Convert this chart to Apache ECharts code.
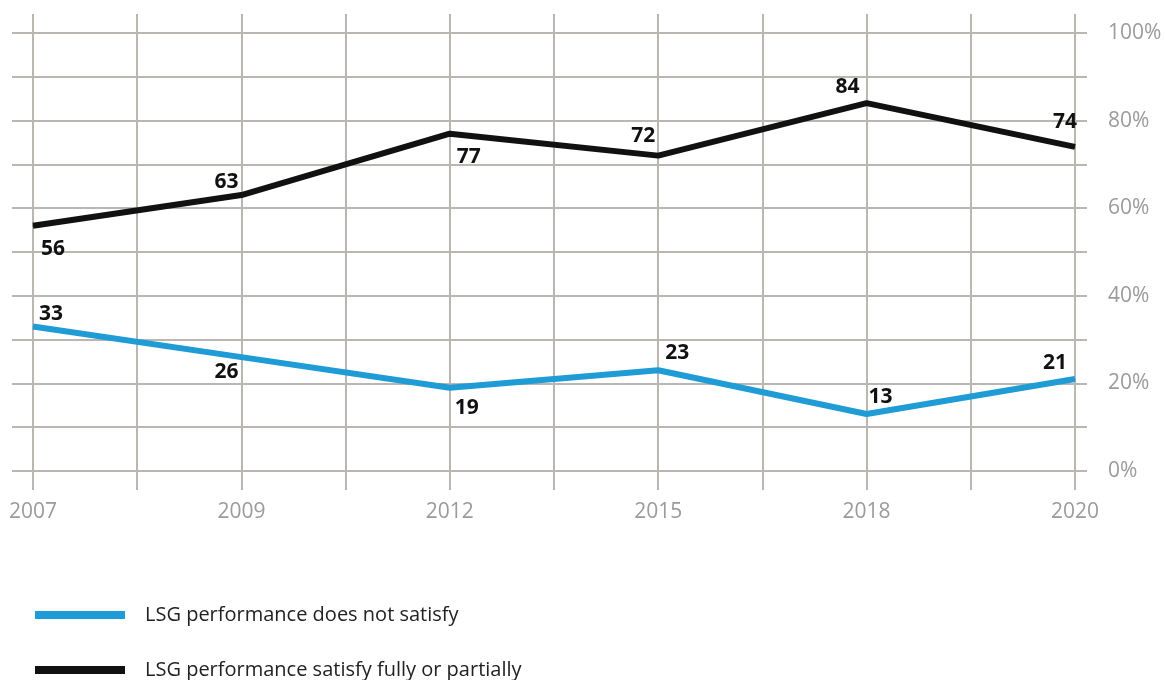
<!DOCTYPE html>
<html>
<head>
<meta charset="utf-8">
<script src="https://cdn.jsdelivr.net/npm/echarts@6/dist/echarts.min.js"></script>
<style>
html,body{margin:0;padding:0;background:#fff;}
#chart{width:1165px;height:680px;}
</style>
</head>
<body>
<div id="chart"></div>
<script>
// Category slots (one per gridline); data years sit on every other slot
const categories = ['2007','2008','2009','2010','2012','2013','2015','2016','2018','2019','2020'];
const tickLabels = ['2007','','2009','','2012','','2015','','2018','','2020'];
const dataYears = ['2007','2009','2012','2015','2018','2020'];
const notSatisfy = [33, 26, 19, 23, 13, 21];
const satisfy = [56, 63, 77, 72, 84, 74];
const seriesNames = ['LSG performance does not satisfy', 'LSG performance satisfy fully or partially'];

// label offsets (layout only)
const notSatisfyOffsets = [[18,-12],[-15,15],[17,20],[19,-17],[14,-17],[-20,-16]];
const satisfyOffsets = [[20,23],[-15,-13],[19,23],[-15,-20],[-19,-16],[-10,-25]];

function buildData(values, offsets) {
  return categories.map(function (c) {
    const i = dataYears.indexOf(c);
    if (i < 0) return null;
    return { value: values[i], label: { offset: offsets[i] } };
  });
}

const gridColor = '#bab6b2';
const chart = echarts.init(document.getElementById('chart'));
const labelStyle = {
  show: true, position: 'inside', color: '#111', fontWeight: 'bold',
  fontSize: 21, fontFamily: 'Open Sans', formatter: '{c}'
};
function legendFor(name, top) {
  return {
    orient: 'vertical', left: 30, top: top, itemWidth: 90, itemHeight: 8,
    icon: 'rect', data: [name],
    textStyle: { color: '#222', fontSize: 20, fontFamily: 'Open Sans', lineHeight: 24, padding: [0,0,0,15] }
  };
}
chart.setOption({
  animation: false,
  backgroundColor: '#fff',
  grid: { left: 33, right: 90, top: 33, bottom: 209 },
  legend: [legendFor(seriesNames[0], 598), legendFor(seriesNames[1], 653)],
  xAxis: [{
    type: 'category', data: categories, boundaryGap: false, position: 'bottom',
    axisLine: { show: false, onZero: false },
    axisTick: { show: true, interval: 0, length: 19, lineStyle: { color: gridColor, width: 2 } },
    axisLabel: { interval: 0, margin: 31, color: '#9b9b9b', fontSize: 21, fontFamily: 'Open Sans',
      formatter: function (v, i) { return tickLabels[i]; } },
    splitLine: { show: true, interval: 0, lineStyle: { color: gridColor, width: 2 } }
  }, {
    type: 'category', data: categories, boundaryGap: false, position: 'top',
    axisLine: { show: false, onZero: false },
    axisTick: { show: true, interval: 0, length: 19, lineStyle: { color: gridColor, width: 2 } },
    axisLabel: { show: false },
    splitLine: { show: false }
  }],
  yAxis: [{
    type: 'value', position: 'right', min: 0, max: 100, interval: 10,
    axisLine: { show: false },
    axisTick: { show: true, length: 12, lineStyle: { color: gridColor, width: 2 } },
    axisLabel: { margin: 33, color: '#9b9b9b', fontSize: 21, fontFamily: 'Open Sans',
      formatter: function (v) { return v % 20 === 0 ? v + '%' : ''; } },
    splitLine: { show: true, lineStyle: { color: gridColor, width: 2 } }
  }, {
    type: 'value', position: 'left', min: 0, max: 100, interval: 10,
    axisLine: { show: false },
    axisTick: { show: true, length: 21, lineStyle: { color: gridColor, width: 2 } },
    axisLabel: { show: false },
    splitLine: { show: false }
  }],
  series: [{
    name: seriesNames[0], type: 'line', xAxisIndex: 0, yAxisIndex: 0,
    data: buildData(notSatisfy, notSatisfyOffsets), connectNulls: true,
    symbol: 'circle', symbolSize: 1, showSymbol: true,
    lineStyle: { color: '#1f9bd5', width: 6 }, itemStyle: { color: '#1f9bd5' },
    label: labelStyle, z: 3
  }, {
    name: seriesNames[1], type: 'line', xAxisIndex: 0, yAxisIndex: 0,
    data: buildData(satisfy, satisfyOffsets), connectNulls: true,
    symbol: 'circle', symbolSize: 1, showSymbol: true,
    lineStyle: { color: '#111', width: 6 }, itemStyle: { color: '#111' },
    label: labelStyle, z: 3
  }]
});
</script>
</body>
</html>
